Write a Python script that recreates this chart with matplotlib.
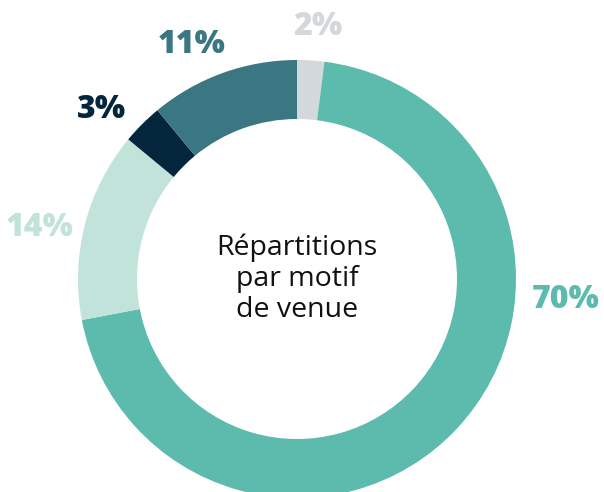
import matplotlib
matplotlib.use("Agg")
import matplotlib.pyplot as plt

categories = ["Autre", "Motif A", "Motif B", "Motif C", "Motif D"]
values = [2, 70, 14, 3, 11]
labels = ["2%", "70%", "14%", "3%", "11%"]
colors = ["#D3D8DC", "#5DBBAE", "#C2E3DA", "#03263D", "#3A7782"]
center_title = "Répartitions\npar motif\nde venue"

W, H = 604, 492
fig = plt.figure(figsize=(W / 100, H / 100), dpi=100)
ax = fig.add_axes([0, 0, 1, 1])

cx, cy = 297, H - 279
R, r = 219, 160
ax.pie(values, colors=colors, startangle=90, counterclock=False,
       center=(cx, cy), radius=R,
       wedgeprops=dict(width=R - r, linewidth=0), frame=True)
ax.set_xlim(0, W)
ax.set_ylim(0, H)
ax.set_aspect("equal")
ax.axis("off")

label_xy = [(318, 27), (566, 300), (40, 228), (101, 110), (192, 45)]
font = "Open Sans"
for lab, col, (x, y) in zip(labels, colors, label_xy):
    ax.text(x, H - y, lab, color=col, fontsize=23, fontweight=800,
            family=font, ha="center", va="center")

ax.text(cx, H - 279, center_title, color="#111111", fontsize=20.5,
        family=font, ha="center", va="center", linespacing=1.15)

fig.savefig("out.png", dpi=100)
